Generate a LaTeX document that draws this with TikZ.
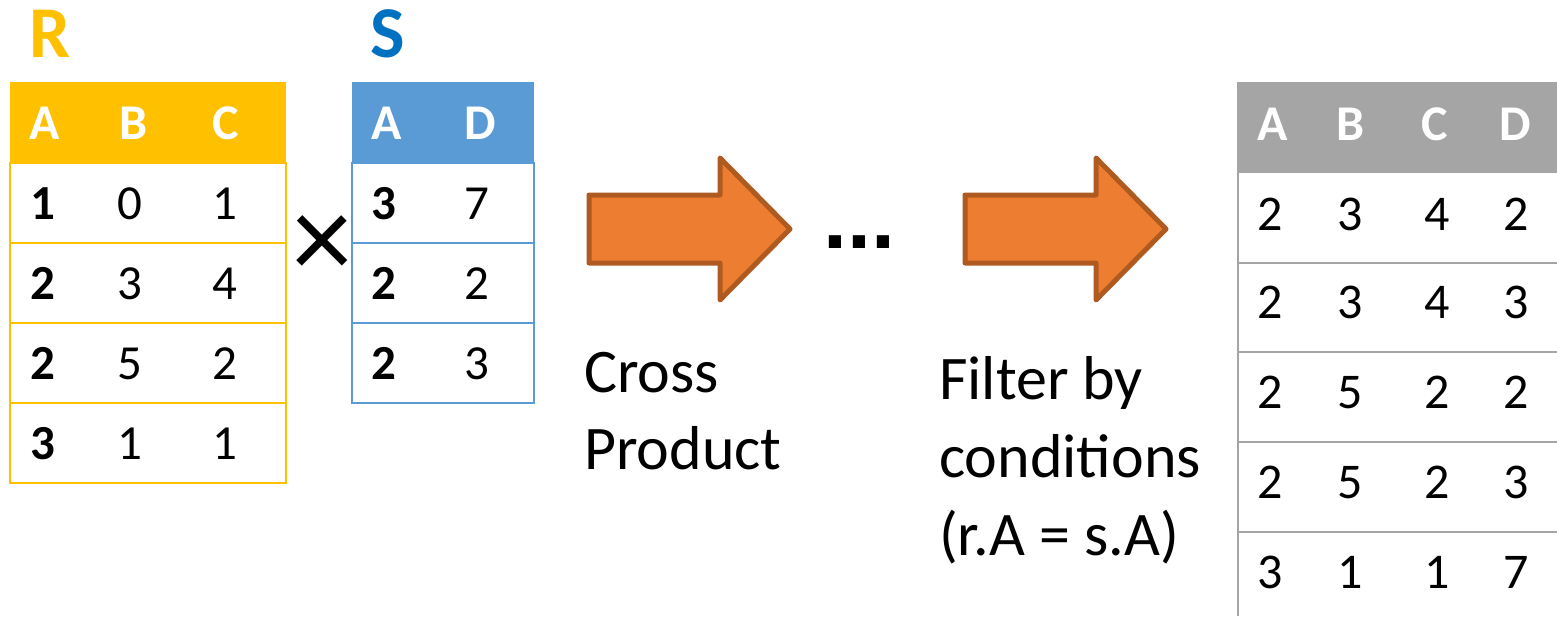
\documentclass[tikz,border=0pt]{standalone}
\usepackage{fontspec}
\setmainfont{Carlito}
\newfontfamily\dotfont{Liberation Sans}
\definecolor{rgold}{HTML}{FFC000}
\definecolor{sblue}{HTML}{5B9BD5}
\definecolor{sdark}{HTML}{0070C0}
\definecolor{tgray}{HTML}{A5A5A5}
\definecolor{aorange}{HTML}{ED7D31}
\definecolor{aedge}{HTML}{AE5A21}
\begin{document}
\begin{tikzpicture}[x=1pt,y=-1pt,
  lbl/.style={anchor=base,inner sep=0pt,font=\fontsize{73}{80}\selectfont\bfseries},
  hdr/.style={anchor=base,inner sep=0pt,text=white,font=\fontsize{50}{60}\selectfont\bfseries},
  cell/.style={anchor=base,inner sep=0pt,font=\fontsize{49}{58}\selectfont},
  keycell/.style={cell,font=\fontsize{49}{58}\selectfont\bfseries},
  rcell/.style={anchor=base,inner sep=0pt,font=\fontsize{50}{60}\selectfont},
  caption/.style={anchor=base west,inner sep=0pt,font=\fontsize{62}{77}\selectfont},
  blockarrow/.style={fill=aorange,draw=aedge,line width=5pt,line join=round},
  rline/.style={draw=rgold,line width=2pt},
  sline/.style={draw=sblue,line width=2pt},
  gline/.style={draw=tgray,line width=2pt}]
\useasboundingbox (0,0) rectangle (1557,616);

% ---------- R ----------
\node[lbl,text=rgold] (Rlbl) at (50,57) {R};
\fill[rgold] (10,82) rectangle (286,163);
\draw[rline] (10,163) rectangle (286,483);
\foreach \yy in {243,323,403} \draw[rline] (10,\yy) -- (286,\yy);
\node[hdr] (RA) at (45,139) {A};
\node[hdr] (RB) at (134,139) {B};
\node[hdr] (RC) at (226,139) {C};
\node[keycell] (r1a) at (43,219) {1};
\node[cell] (r1b) at (130,219) {0};
\node[cell] (r1c) at (225,219) {1};
\node[keycell] (r2a) at (43,299) {2};
\node[cell] (r2b) at (130,299) {3};
\node[cell] (r2c) at (225,299) {4};
\node[keycell] (r3a) at (43,379) {2};
\node[cell] (r3b) at (130,379) {5};
\node[cell] (r3c) at (225,379) {2};
\node[keycell] (r4a) at (43,459) {3};
\node[cell] (r4b) at (130,459) {1};
\node[cell] (r4c) at (225,459) {1};

% ---------- times ----------
\node[anchor=base,inner sep=0pt,font=\fontsize{120}{130}\selectfont] (times) at (322,278) {×};

% ---------- S ----------
\node[lbl,text=sdark] (Slbl) at (388,57) {S};
\fill[sblue] (352,82) rectangle (534,163);
\draw[sline] (352,163) rectangle (534,403);
\foreach \yy in {243,323} \draw[sline] (352,\yy) -- (534,\yy);
\node[hdr] (SA) at (387,139) {A};
\node[hdr] (SD) at (480,139) {D};
\node[keycell] (s1a) at (384,219) {3};
\node[cell] (s1d) at (477,219) {7};
\node[keycell] (s2a) at (384,299) {2};
\node[cell] (s2d) at (477,299) {2};
\node[keycell] (s3a) at (384,379) {2};
\node[cell] (s3d) at (477,379) {3};

% ---------- arrows ----------
\draw[blockarrow] (589,195) -- (720,195) -- (720,158) -- (790,229) -- (720,300) -- (720,263) -- (589,263) -- cycle;
\draw[blockarrow] (965,195) -- (1096,195) -- (1096,158) -- (1166,229) -- (1096,300) -- (1096,263) -- (965,263) -- cycle;

\node[anchor=base west,inner sep=0pt,font=\dotfont\fontsize{86}{96}\selectfont\bfseries] (dots) at (823,248) {...};

\node[caption] (cp1) at (584,392) {Cross};
\node[caption] (cp2) at (584,469) {Product};
\node[caption] (f1) at (939,399) {Filter by};
\node[caption] (f2) at (939,477) {conditions};
\node[caption] (f3) at (939,555) {(r.A = s.A)};

% ---------- result ----------
\fill[tgray] (1238,82) rectangle (1557,173);
\draw[gline] (1238,82) -- (1238,616);
\foreach \yy in {263,352,442,532} \draw[gline] (1238,\yy) -- (1557,\yy);
\node[hdr] (TA) at (1273,140) {A};
\node[hdr] (TB) at (1350,140) {B};
\node[hdr] (TC) at (1435,140) {C};
\node[hdr] (TD) at (1515,140) {D};
\foreach \r/\yy/\a/\b/\c/\d in {1/230/2/3/4/2, 2/318/2/3/4/3, 3/408/2/5/2/2, 4/498/2/5/2/3, 5/588/3/1/1/7}{
  \node[rcell] (t\r a) at (1270,\yy) {\a};
  \node[rcell] (t\r b) at (1350,\yy) {\b};
  \node[rcell] (t\r c) at (1437,\yy) {\c};
  \node[rcell] (t\r d) at (1516,\yy) {\d};
}
\end{tikzpicture}
\end{document}
